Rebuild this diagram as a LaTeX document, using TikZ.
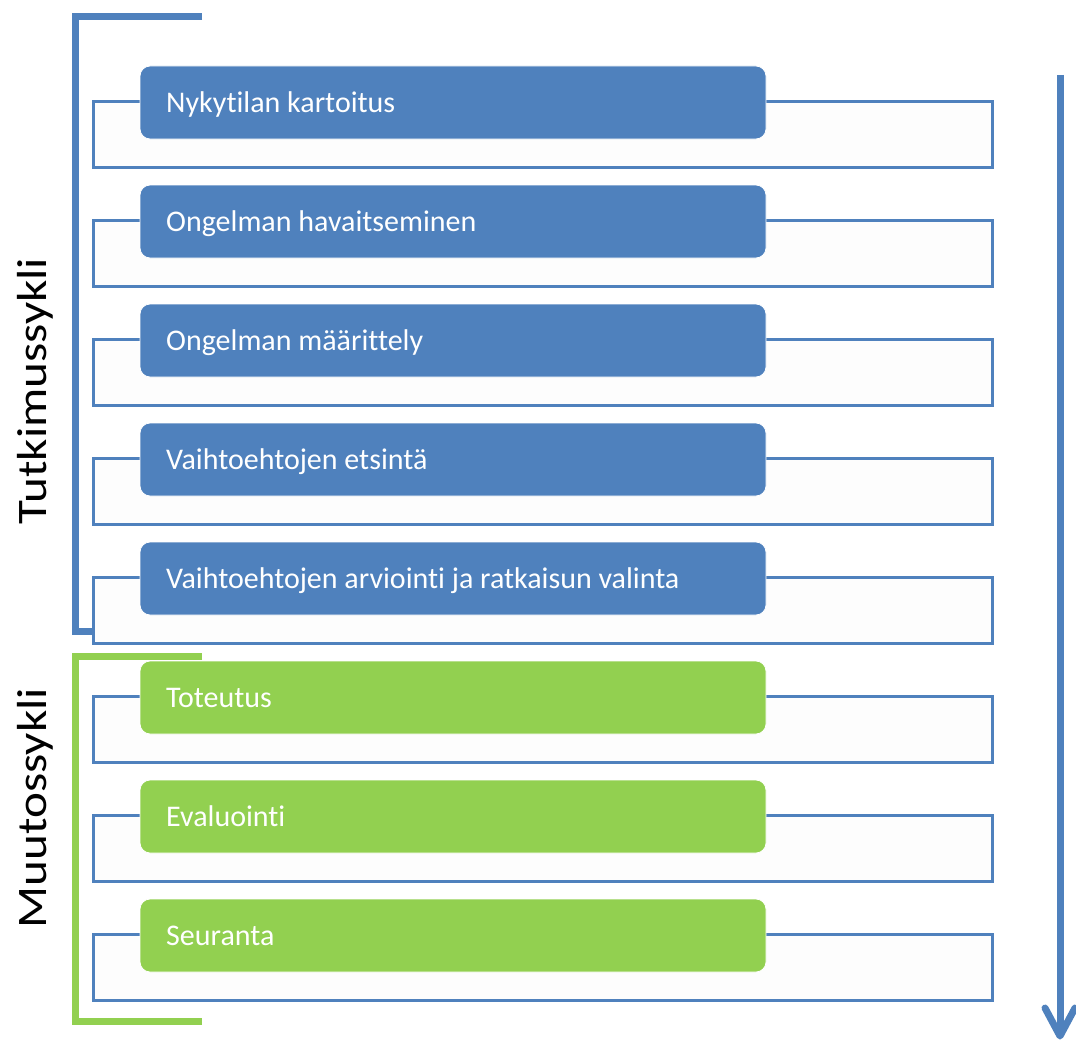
\documentclass[tikz,border=0pt]{standalone}
\usepackage{fontspec}
\setmainfont[Ligatures=NoCommon]{Carlito}
\definecolor{cblue}{HTML}{4F81BD}
\definecolor{cgreen}{HTML}{92D050}
\definecolor{cfill}{HTML}{FDFDFD}
\begin{document}
\begin{tikzpicture}[x=1pt,y=-1pt,
  outline/.style={draw=cblue,line width=3pt,fill=cfill},
  stepbox/.style={rounded corners=10pt,draw=white,line width=0.8pt},
  steptext/.style={text=white,anchor=base west,inner sep=0pt,font=\fontsize{30}{34}\selectfont},
  sidelabel/.style={rotate=90,anchor=base,inner sep=0pt,font=\fontsize{42}{48}\selectfont\addfontfeature{FakeStretch=1.17},text=black},
  bracket/.style={line width=7pt}]
\useasboundingbox (0,0) rectangle (1076,1041);
% brackets
\draw[bracket,cblue] (202,16.5) -- (75,16.5) -- (75,631) -- (202,631);
\draw[bracket,cgreen] (202,656) -- (75,656) -- (75,1021) -- (202,1021);
% rows
\foreach \i/\t/\c in {0/Nykytilan kartoitus/cblue,1/Ongelman havaitseminen/cblue,2/Ongelman määrittely/cblue,3/Vaihtoehtojen etsintä/cblue,4/Vaihtoehtojen arviointi ja ratkaisun valinta/cblue,5/Toteutus/cgreen,6/Evaluointi/cgreen,7/Seuranta/cgreen}{
  \pgfmathsetmacro{\yt}{66+119*\i}
  \draw[outline] (93,\yt+35) rectangle (992,\yt+101);
  \fill[\c,stepbox] (140,\yt) rectangle (766,\yt+73);
  \node[steptext] (t\i) at (166,\yt+46.5) {\t};
}
% side labels
\node[sidelabel] (lab1) at (46,391) {Tutkimussykli};
\node[sidelabel] (lab2) at (46,808) {Muutossykli};
% arrow
\coordinate (atop) at (1060,75);
\coordinate (abot) at (1060,1036);
\draw[cblue,line width=7pt] (atop) -- (abot);
\draw[cblue,line width=7pt,line cap=round,line join=round] (1045,1008) -- (abot) -- (1075,1008);
\end{tikzpicture}
\end{document}
